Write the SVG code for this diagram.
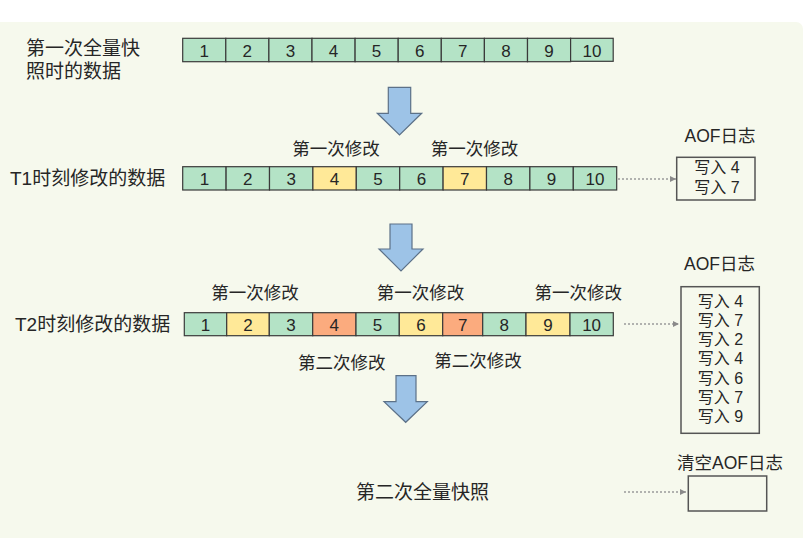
<svg xmlns="http://www.w3.org/2000/svg" width="805" height="538" viewBox="0 0 805 538">
<defs>
<style>
text{font-family:"Liberation Sans","Noto Sans CJK SC",sans-serif;fill:#262626}
.lbl{font-size:19px}
.mod{font-size:17.5px;text-anchor:middle}
.d{font-size:17px;text-anchor:middle}
.w{font-size:16px;text-anchor:middle}
.g{fill:#B4E3C6}
.y{fill:#FFE998}
.o{fill:#FBAB7E}
.cell rect{stroke:#3a3a3a;stroke-width:1.2}
.box{fill:none;stroke:#555;stroke-width:1.5}
.dot{stroke:#9a9a9a;stroke-width:1.3;stroke-dasharray:2 2;fill:none}
.big{fill:#9DC3E7;stroke:#5C7188;stroke-width:1.2}
</style>
<marker id="ah" markerWidth="8" markerHeight="8" refX="6" refY="3.5" orient="auto" markerUnits="userSpaceOnUse">
<path d="M0,0.5 L6,3.5 L0,6.5 Z" fill="#8a8a8a"/>
</marker>
</defs>
<rect x="0" y="0" width="805" height="538" fill="#ffffff"/>
<rect x="-10" y="22" width="813" height="530" rx="7" fill="#F6F9ED"/>

<g id="snapshot1">
<text class="lbl" x="26" y="55">第一次全量快</text>
<text class="lbl" x="26" y="78">照时的数据</text>
<g class="cell">
<rect class="g" x="182.7" y="38.3" width="43.1" height="23.4"/>
<rect class="g" x="225.8" y="38.3" width="43.1" height="23.4"/>
<rect class="g" x="268.9" y="38.3" width="43.1" height="23.4"/>
<rect class="g" x="312" y="38.3" width="43.1" height="23.4"/>
<rect class="g" x="355.1" y="38.3" width="43.1" height="23.4"/>
<rect class="g" x="398.2" y="38.3" width="43.1" height="23.4"/>
<rect class="g" x="441.3" y="38.3" width="43.1" height="23.4"/>
<rect class="g" x="484.4" y="38.3" width="43.1" height="23.4"/>
<rect class="g" x="527.5" y="38.3" width="43.1" height="23.4"/>
<rect class="g" x="570.6" y="38.3" width="42.6" height="23"/>
</g>
<text class="d" x="204.2" y="56.5">1</text>
<text class="d" x="247.3" y="56.5">2</text>
<text class="d" x="290.4" y="56.5">3</text>
<text class="d" x="333.5" y="56.5">4</text>
<text class="d" x="376.6" y="56.5">5</text>
<text class="d" x="419.7" y="56.5">6</text>
<text class="d" x="462.8" y="56.5">7</text>
<text class="d" x="505.9" y="56.5">8</text>
<text class="d" x="549" y="56.5">9</text>
<text class="d" x="591.9" y="56.5">10</text>
</g>

<g id="t1">
<text class="lbl" x="10" y="185">T1时刻修改的数据</text>
<text class="mod" x="336" y="155">第一次修改</text>
<text class="mod" x="474.5" y="155">第一次修改</text>
<g class="cell">
<rect class="g" x="182.7" y="166.7" width="43.4" height="23.3"/>
<rect class="g" x="226.1" y="166.7" width="43.4" height="23.3"/>
<rect class="g" x="269.5" y="166.7" width="43.4" height="23.3"/>
<rect class="y" x="312.9" y="166.7" width="43.4" height="23.3"/>
<rect class="g" x="356.3" y="166.7" width="43.4" height="23.3"/>
<rect class="g" x="399.7" y="166.7" width="43.4" height="23.3"/>
<rect class="y" x="443.1" y="166.7" width="43.4" height="23.3"/>
<rect class="g" x="486.5" y="166.7" width="43.4" height="23.3"/>
<rect class="g" x="529.9" y="166.7" width="43.4" height="23.3"/>
<rect class="g" x="573.3" y="166.7" width="43.4" height="23.3"/>
</g>
<text class="d" x="204.4" y="184.5">1</text>
<text class="d" x="247.8" y="184.5">2</text>
<text class="d" x="291.2" y="184.5">3</text>
<text class="d" x="334.6" y="184.5">4</text>
<text class="d" x="378" y="184.5">5</text>
<text class="d" x="421.4" y="184.5">6</text>
<text class="d" x="464.8" y="184.5">7</text>
<text class="d" x="508.2" y="184.5">8</text>
<text class="d" x="551.6" y="184.5">9</text>
<text class="d" x="595" y="184.5">10</text>
</g>

<g id="aof1">
<text class="mod" x="720" y="142">AOF日志</text>
<rect class="box" x="676.7" y="157.3" width="78.3" height="42.7"/>
<text class="w" x="717" y="173.3">写入 4</text>
<text class="w" x="717" y="192.7">写入 7</text>
</g>

<g id="t2">
<text class="lbl" x="15" y="331">T2时刻修改的数据</text>
<text class="mod" x="255" y="299">第一次修改</text>
<text class="mod" x="420.5" y="299">第一次修改</text>
<text class="mod" x="578.3" y="299">第一次修改</text>
<text class="mod" x="341.7" y="369">第二次修改</text>
<text class="mod" x="478" y="367">第二次修改</text>
<g class="cell">
<rect class="g" x="184.3" y="312.7" width="42.4" height="23"/>
<rect class="y" x="226.7" y="312.7" width="42.6" height="23"/>
<rect class="g" x="269.3" y="312.7" width="43.4" height="23"/>
<rect class="o" x="312.7" y="312.7" width="43.3" height="23"/>
<rect class="g" x="356" y="312.7" width="43.3" height="23"/>
<rect class="y" x="399.3" y="312.7" width="43.4" height="23"/>
<rect class="o" x="442.7" y="312.7" width="40" height="23"/>
<rect class="g" x="482.7" y="312.7" width="43.3" height="23"/>
<rect class="y" x="526" y="312.7" width="44" height="23"/>
<rect class="g" x="570" y="312.7" width="43.3" height="23"/>
</g>
<text class="d" x="205.5" y="330.5">1</text>
<text class="d" x="248" y="330.5">2</text>
<text class="d" x="291" y="330.5">3</text>
<text class="d" x="334.3" y="330.5">4</text>
<text class="d" x="377.6" y="330.5">5</text>
<text class="d" x="421" y="330.5">6</text>
<text class="d" x="462.7" y="330.5">7</text>
<text class="d" x="504.3" y="330.5">8</text>
<text class="d" x="548" y="330.5">9</text>
<text class="d" x="591.6" y="330.5">10</text>
</g>

<g id="aof2">
<text class="mod" x="719.5" y="270">AOF日志</text>
<rect class="box" x="681" y="286.7" width="78.3" height="146.6"/>
<text class="w" x="720.5" y="306.7">写入 4</text>
<text class="w" x="720.5" y="326">写入 7</text>
<text class="w" x="720.5" y="345.2">写入 2</text>
<text class="w" x="720.5" y="364.4">写入 4</text>
<text class="w" x="720.5" y="383.5">写入 6</text>
<text class="w" x="720.5" y="402.6">写入 7</text>
<text class="w" x="720.5" y="421.8">写入 9</text>
</g>

<g id="snapshot2">
<text class="lbl" x="356" y="499">第二次全量快照</text>
</g>

<g id="aof3">
<text class="mod" x="730" y="469">清空AOF日志</text>
<rect class="box" x="688.3" y="476" width="78.4" height="35"/>
</g>

<g id="connectors">
<path class="big" d="M388.3,87.3 H410.7 V113.3 H421.7 L399.5,135 L377.3,113.3 H388.3 Z"/>
<path class="big" d="M390,224 H412 V249 H423 L401,271 L379,249 H390 Z"/>
<path class="big" d="M396,375.7 H416 V401.7 H427.3 L405.7,422.3 L384,401.7 H396 Z"/>
<line class="dot" x1="618" y1="179" x2="676" y2="179" marker-end="url(#ah)"/>
<line class="dot" x1="624" y1="324" x2="679" y2="324" marker-end="url(#ah)"/>
<line class="dot" x1="624" y1="492" x2="686" y2="492" marker-end="url(#ah)"/>
</g>
</svg>
